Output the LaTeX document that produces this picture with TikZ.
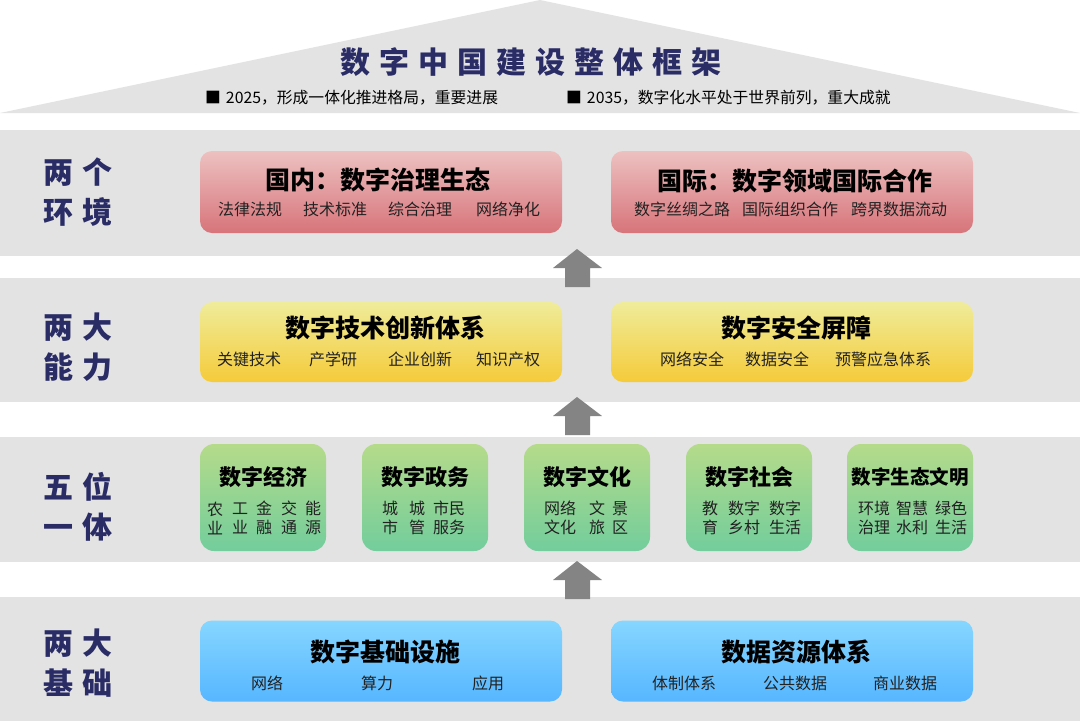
\documentclass[tikz,border=0pt]{standalone}
\usepackage{fontspec}
\setmainfont{Noto Sans CJK SC}
\definecolor{navy}{HTML}{2A2C66}
\definecolor{bandgray}{HTML}{E3E3E3}
\definecolor{arrowgray}{HTML}{848484}
\definecolor{subtxt}{HTML}{222222}
\definecolor{redtop}{HTML}{EDC1C1}
\definecolor{redbot}{HTML}{D7747A}
\definecolor{yeltop}{HTML}{EFEC9A}
\definecolor{yelbot}{HTML}{F5CB3A}
\definecolor{grntop}{HTML}{B5DB8A}
\definecolor{grnbot}{HTML}{72CD9C}
\definecolor{blutop}{HTML}{86D6FF}
\definecolor{blubot}{HTML}{56B6FF}
\newcommand{\gapA}{\hspace{9pt}}
\newcommand{\gapB}{\hspace{10pt}}
\tikzset{
  bigbox/.style={rounded corners=12pt, minimum width=362pt, inner sep=0pt, draw=none},
  smallbox/.style={rounded corners=14pt, minimum width=126pt, minimum height=107pt, inner sep=0pt, draw=none, top color=grntop, bottom color=grnbot},
  redbox/.style={bigbox, minimum height=82pt, top color=redtop, bottom color=redbot},
  yelbox/.style={bigbox, minimum height=80pt, top color=yeltop, bottom color=yelbot},
  blubox/.style={bigbox, minimum height=81pt, top color=blutop, bottom color=blubot},
  ttl/.style={inner sep=0pt, font=\fontsize{25}{30}\selectfont\bfseries, text=black},
  gttl/.style={inner sep=0pt, font=\fontsize{22}{26}\selectfont\bfseries, text=black},
  sub/.style={inner sep=0pt, font=\fontsize{16}{19}\selectfont, text=subtxt},
  gsub/.style={inner sep=0pt, align=center, font=\fontsize{16}{19}\selectfont, text=subtxt},
  lbl/.style={inner sep=0pt, align=center, font=\fontsize{30}{40}\selectfont\bfseries, text=navy},
  bullet/.style={inner sep=0pt, anchor=west, font=\fontsize{15.8}{18}\selectfont, text=black},
  band/.style={fill=bandgray, draw=none},
  uparrow/.style={fill=arrowgray, draw=none}
}
\begin{document}
\begin{tikzpicture}[x=1pt,y=-1pt]
\useasboundingbox (0,0) rectangle (1080,721);
\fill[white] (0,0) rectangle (1080,721);
% roof
\fill[bandgray] (0,113) -- (540,0) -- (1080,113) -- cycle;
\node[inner sep=0pt, font=\fontsize{30}{36}\selectfont\bfseries, text=navy] (title) at (531,62)
  {数\gapA 字\gapA 中\gapA 国\gapA 建\gapA 设\gapA 整\gapA 体\gapA 框\gapA 架};
\node[bullet] (b1) at (205,98) {■\hspace{5pt}2025，形成一体化推进格局，重要进展};
\node[bullet] (b2) at (566,98) {■\hspace{5pt}2035，数字化水平处于世界前列，重大成就};
% bands
\fill[band] (0,130) rectangle (1080,256);
\fill[band] (0,278) rectangle (1080,402);
\fill[band] (0,437) rectangle (1080,562);
\fill[band] (0,597) rectangle (1080,721);
% arrows
\foreach \t in {249,397,561}{
  \fill[uparrow] (577,\t) -- (602,\t+19) -- (590,\t+19) -- (590,\t+38) -- (565,\t+38) -- (565,\t+19) -- (553,\t+19) -- cycle;
}
% left labels
\node[lbl] (l1) at (78,192) {两\gapB 个\\环\gapB 境};
\node[lbl] (l2) at (78,347) {两\gapB 大\\能\gapB 力};
\node[lbl] (l3) at (78,507) {五\gapB 位\\一\gapB 体};
\node[lbl] (l4) at (78,663) {两\gapB 大\\基\gapB 础};
% red row
\node[redbox] (rl) at (381,192) {};
\node[redbox] (rr) at (792,192) {};
\node[ttl] (rlt) at (378,180) {国内：数字治理生态};
\node[sub] at (250,209) {法律法规};
\node[sub] at (335,209) {技术标准};
\node[sub] at (420,209) {综合治理};
\node[sub] at (508,209) {网络净化};
\node[ttl] (rrt) at (795,181) {国际：数字领域国际合作};
\node[sub] at (682,209) {数字丝绸之路};
\node[sub] at (790,209) {国际组织合作};
\node[sub] at (899,209) {跨界数据流动};
% yellow row
\node[yelbox] (yl) at (381,342) {};
\node[yelbox] (yr) at (792,342) {};
\node[ttl] at (385,328) {数字技术创新体系};
\node[sub] at (249,359) {关键技术};
\node[sub] at (333,359) {产学研};
\node[sub] at (420,359) {企业创新};
\node[sub] at (508,359) {知识产权};
\node[ttl] at (796,328) {数字安全屏障};
\node[sub] at (692,359) {网络安全};
\node[sub] at (777,359) {数据安全};
\node[sub] at (883,359) {预警应急体系};
% green row
\node[smallbox] (g1) at (263,497.5) {};
\node[smallbox] (g2) at (425,497.5) {};
\node[smallbox] (g3) at (587,497.5) {};
\node[smallbox] (g4) at (749,497.5) {};
\node[smallbox] (g5) at (910,497.5) {};
\node[gttl] at (263,477) {数字经济};
\node[gttl] at (425,477) {数字政务};
\node[gttl] at (587,477) {数字文化};
\node[gttl] at (749,477) {数字社会};
\node[gttl, font=\fontsize{19.5}{24}\selectfont\bfseries] at (910,477) {数字生态文明};
\node[gsub] at (215,518) {农\\业};
\node[gsub] at (240,518) {工\\业};
\node[gsub] at (264,518) {金\\融};
\node[gsub] at (289,518) {交\\通};
\node[gsub] at (313,518) {能\\源};
\node[gsub] at (390,518) {城\\市};
\node[gsub] at (417,518) {城\\管};
\node[gsub] at (449,518) {市民\\服务};
\node[gsub] at (560,518) {网络\\文化};
\node[gsub] at (597,518) {文\\旅};
\node[gsub] at (620,518) {景\\区};
\node[gsub] at (710,518) {教\\育};
\node[gsub] at (744,518) {数字\\乡村};
\node[gsub] at (785,518) {数字\\生活};
\node[gsub] at (874,518) {环境\\治理};
\node[gsub] at (912,518) {智慧\\水利};
\node[gsub] at (951,518) {绿色\\生活};
% blue row
\node[blubox] (bl) at (381,661) {};
\node[blubox] (br) at (792,661) {};
\node[ttl] at (385,652) {数字基础设施};
\node[sub] at (267,683) {网络};
\node[sub] at (377,683) {算力};
\node[sub] at (488,683) {应用};
\node[ttl] at (796,652) {数据资源体系};
\node[sub] at (684,683) {体制体系};
\node[sub] at (795,683) {公共数据};
\node[sub] at (905,683) {商业数据};
\end{tikzpicture}
\end{document}
